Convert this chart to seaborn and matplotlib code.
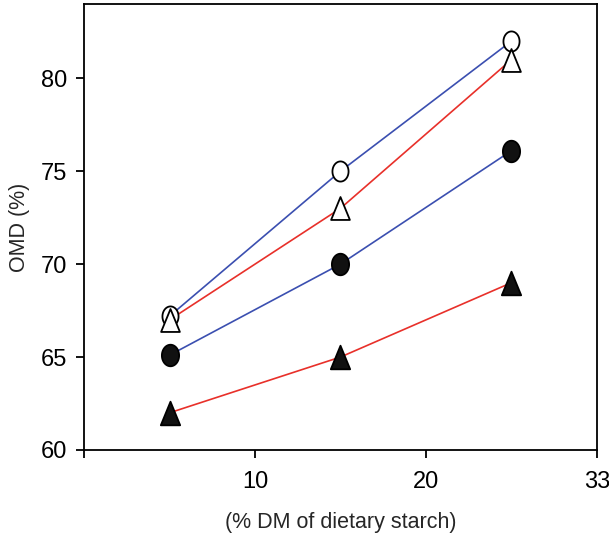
import numpy as np
import pandas as pd
import matplotlib
matplotlib.use("Agg")
import matplotlib.pyplot as plt
from matplotlib.path import Path
import seaborn as sns

starch = [5, 15, 25]
open_circle = [67.2, 75.0, 82.0]
open_triangle = [67.0, 73.0, 81.0]
filled_circle = [65.1, 70.0, 76.1]
filled_triangle = [62.0, 65.0, 69.0]
x_ticks = [0, 10, 20, 30]
x_tick_labels = ["", "10", "20", "33"]
y_ticks = [60, 65, 70, 75, 80]

sns.set_theme(style="ticks")
plt.rcParams['font.family'] = ['Liberation Sans', 'DejaVu Sans']

BLUE = "#3b4fb0"
RED = "#e8302a"

# elliptical circle marker and triangle marker
t = np.linspace(0, 2 * np.pi, 60)
ell = Path(np.column_stack([0.8 * np.cos(t), np.sin(t)]), closed=True)
tri = Path([(-0.41, -0.5), (0.41, -0.5), (0.0, 0.5), (-0.41, -0.5)], closed=True)

fig = plt.figure(figsize=(6.09, 5.38), dpi=100)
ax = fig.add_axes([0.138, 0.1636, 0.842, 0.829])

series = [
    (open_circle, BLUE, ell, "white", 14.5),
    (open_triangle, RED, tri, "white", 16.5),
    (filled_circle, BLUE, ell, "#111111", 15.5),
    (filled_triangle, RED, tri, "#111111", 17.0),
]

for vals, col, mk, fc, ms in series:
    df = pd.DataFrame({"x": starch, "y": vals})
    sns.lineplot(data=df, x="x", y="y", ax=ax, color=col, linewidth=1.2,
                 zorder=2, legend=False)
for vals, col, mk, fc, ms in series:
    df = pd.DataFrame({"x": starch, "y": vals})
    sns.lineplot(data=df, x="x", y="y", ax=ax, linestyle="none", marker=mk,
                 markersize=ms, markerfacecolor=fc, markeredgecolor="black",
                 markeredgewidth=1.3, zorder=3, legend=False)

ax.set_xlim(0, 30)
ax.set_ylim(60, 84)
ax.set_xticks(x_ticks)
ax.set_xticklabels(x_tick_labels)
ax.set_yticks(y_ticks)
ax.tick_params(axis="both", direction="out", length=6, width=1.3,
               labelsize=17, colors="black", pad=6)
ax.tick_params(axis="x", pad=9)
for s in ax.spines.values():
    s.set_visible(True)
    s.set_linewidth(1.3)
    s.set_color("black")

ax.set_xlabel("(% DM of dietary starch)", fontsize=15.5, labelpad=14)
ax.set_ylabel("OMD (%)", fontsize=15.5, labelpad=8)

fig.savefig("out.png", dpi=100)
